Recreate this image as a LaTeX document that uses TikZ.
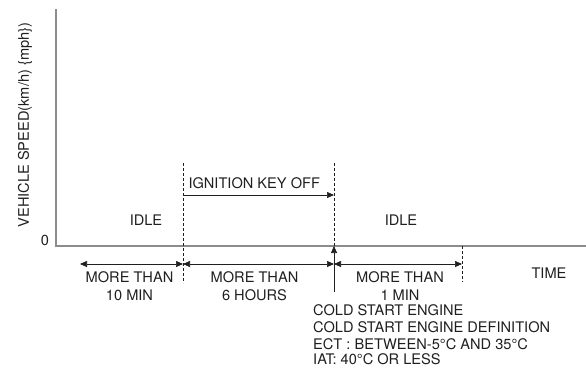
\documentclass[tikz,border=0pt]{standalone}
\usepackage{fontspec}
\setmainfont{TeX Gyre Heros}
\usepackage{tikz}
\usetikzlibrary{arrows.meta,calc,positioning}
\definecolor{axisgray}{gray}{0.55}
\definecolor{inkgray}{gray}{0.12}

\begin{document}
\begin{tikzpicture}[x=1pt, y=-1pt, font=\fontsize{14.6}{16.5}\selectfont, text=inkgray,
    axisline/.style={draw=axisgray, line width=1.6pt},
    markline/.style={draw=inkgray, densely dashed, line width=0.6pt},
    tip/.style={-{Triangle[length=7pt,width=6pt]}},
    twotip/.style={{Triangle[length=7pt,width=6pt]}-{Triangle[length=7pt,width=6pt]}}]
        \useasboundingbox (0,0) rectangle (586,370);

        % Axes
        \coordinate (origin) at (56,246);
        \coordinate (ytop) at (56,9);
        \coordinate (xend) at (586,246);
        \draw[axisline] (ytop) -- (origin) -- (xend);
        \node (zero) at (45,240) {0};
        \node[rotate=90] (ylabel) at (25,125) {VEHICLE SPEED(km/h) \{mph\})};

        % Boundaries of the periods
        \foreach \i/\x in {0/80, 1/183, 2/334, 3/462} {
            \coordinate (b\i) at (\x,264);
          }
        \coordinate (offtop) at (183,163);
        \coordinate (offbot) at (183,283);
        \coordinate (ontop) at (334,163);
        \coordinate (onaxis) at (334,246);
        \coordinate (onbot) at (334,292);
        \coordinate (endbot) at (462,282);
        \coordinate (endtop) at (462,246);

        % Dashed markers
        \draw[markline] (offtop) -- (offbot);
        \draw[markline] (ontop) -- (onaxis);
        \draw[markline] (endtop) -- (endbot);

        % Ignition key off
        \node[anchor=west] (keyoff) at (185,183.5) {IGNITION KEY OFF};
        \draw[tip, inkgray, line width=0.6pt] (183,195) coordinate (kstart) -- (334,195) coordinate (kend);
        \node (idleA) at (146,220) {IDLE};
        \node (idleB) at (401,220) {IDLE};

        % Cold start marker
        \draw[tip, inkgray, line width=0.6pt] (onbot) -- (onaxis);

        % Periods with their lengths
        \foreach \i/\j/\txt/\dx in {0/1/{MORE THAN\\10 MIN}/-2, 1/2/{MORE THAN\\6 HOURS}/-4, 2/3/{MORE THAN\\1 MIN}/2} {
            \draw[twotip, inkgray, line width=0.6pt] (b\i) -- (b\j);
            \node[align=center, font=\fontsize{14.6}{18.5}\selectfont] (period\j) at ($(b\i)!0.5!(b\j)+(\dx,22)$) {\txt};
          }
        \node (time) at (549,273) {TIME};

        % Cold start conditions
        \foreach \n/\y/\txt in {1/315.5/COLD START ENGINE, 2/332/COLD START ENGINE DEFINITION,
            3/349/{ECT : BETWEEN-5°C AND 35°C}, 4/364.5/{IAT: 40°C OR LESS}} {
            \node[anchor=base west, inner sep=0pt] (cold\n) at (313,\y) {\txt};
          }
      \end{tikzpicture}
\end{document}
